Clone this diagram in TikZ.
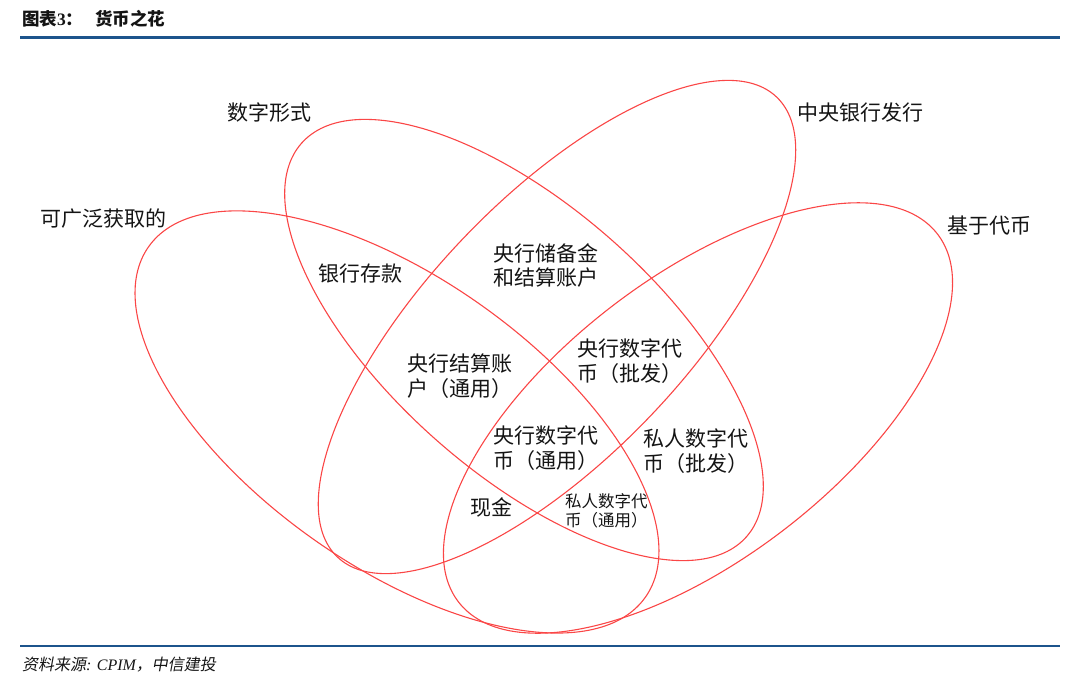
\documentclass[tikz,border=0pt]{standalone}
\usepackage{fontspec}
\newfontfamily\cjk{Noto Sans CJK SC}
\newfontfamily\cjksl[FakeSlant=0.18]{Noto Sans CJK SC}
\newfontfamily\seriff{Liberation Serif}
\definecolor{petal}{RGB}{250,70,70}
\definecolor{rulebl}{RGB}{28,84,140}
\definecolor{ink}{RGB}{20,20,20}
\newcommand\twoline[2]{\begin{tabular}[t]{@{}l@{}}#1\\#2\end{tabular}}
\begin{document}
\begin{tikzpicture}[x=1pt,y=-1pt,
  petalline/.style={draw=petal,line width=1.1pt},
  lbl/.style={anchor=base west,inner sep=0pt,text=ink,font=\cjk\fontsize{21}{24}\selectfont},
  smalllbl/.style={anchor=base west,inner sep=0pt,text=ink,font=\cjk\fontsize{16.5}{19}\selectfont},
  rulebar/.style={draw=rulebl}]
\useasboundingbox (0,0) rectangle (1080,681);

% header and footer
\node[anchor=base west,inner sep=0pt,text=ink] (title) at (22,25)
  {\cjk\bfseries\fontsize{17.5}{20}\selectfont 图表{\seriff\bfseries 3}：\hspace{12pt}货币之花};
\coordinate (tl) at (20,37.5);
\coordinate (tr) at (1060,37.5);
\draw[rulebar,line width=3.5pt] (tl) -- (tr);
\coordinate (bl) at (20,646);
\coordinate (br) at (1060,646);
\draw[rulebar,line width=2.5pt] (bl) -- (br);
\node[anchor=base west,inner sep=0pt,text=ink] (source) at (22,670)
  {\fontsize{16}{18}\selectfont\cjksl 资料来源{\seriff\itshape: CPIM}，中信建投};

% the four petals
\coordinate (cA) at (397,422);
\coordinate (cB) at (698,418);
\coordinate (cC) at (557,327);
\coordinate (cD) at (524,340);
% A: widely accessible
\draw[petalline,rotate around={-35.2:(cA)}] (cA) ellipse [x radius=304pt,y radius=144pt];
% B: token based
\draw[petalline,rotate around={37.5:(cB)}] (cB) ellipse [x radius=302pt,y radius=141pt];
% C: central bank issued
\draw[petalline,rotate around={46.3:(cC)}] (cC) ellipse [x radius=318pt,y radius=129pt];
% D: digital
\draw[petalline,rotate around={-41.5:(cD)}] (cD) ellipse [x radius=297pt,y radius=133pt];

% outer labels
\node[lbl] (digital) at (227,120) {数字形式};
\node[lbl] (wide) at (40,226) {可广泛获取的};
\node[lbl] (cbank) at (797,120) {中央银行发行};
\node[lbl] (token) at (947,233) {基于代币};

% inner labels
\node[lbl] (deposit) at (318,281) {银行存款};
\node[lbl] (reserve) at (493,261) {\twoline{央行储备金}{和结算账户}};
\node[lbl] (cbacct) at (407,371) {\twoline{央行结算账}{户（通用）}};
\node[lbl] (cbdcw) at (577,356) {\twoline{央行数字代}{币（批发）}};
\node[lbl] (cbdcg) at (493,443) {\twoline{央行数字代}{币（通用）}};
\node[lbl] (pdtw) at (643,446) {\twoline{私人数字代}{币（批发）}};
\node[lbl] (cash) at (470,515) {现金};
\node[smalllbl] (pdtg) at (565,507) {\twoline{私人数字代}{币（通用）}};
\end{tikzpicture}
\end{document}
